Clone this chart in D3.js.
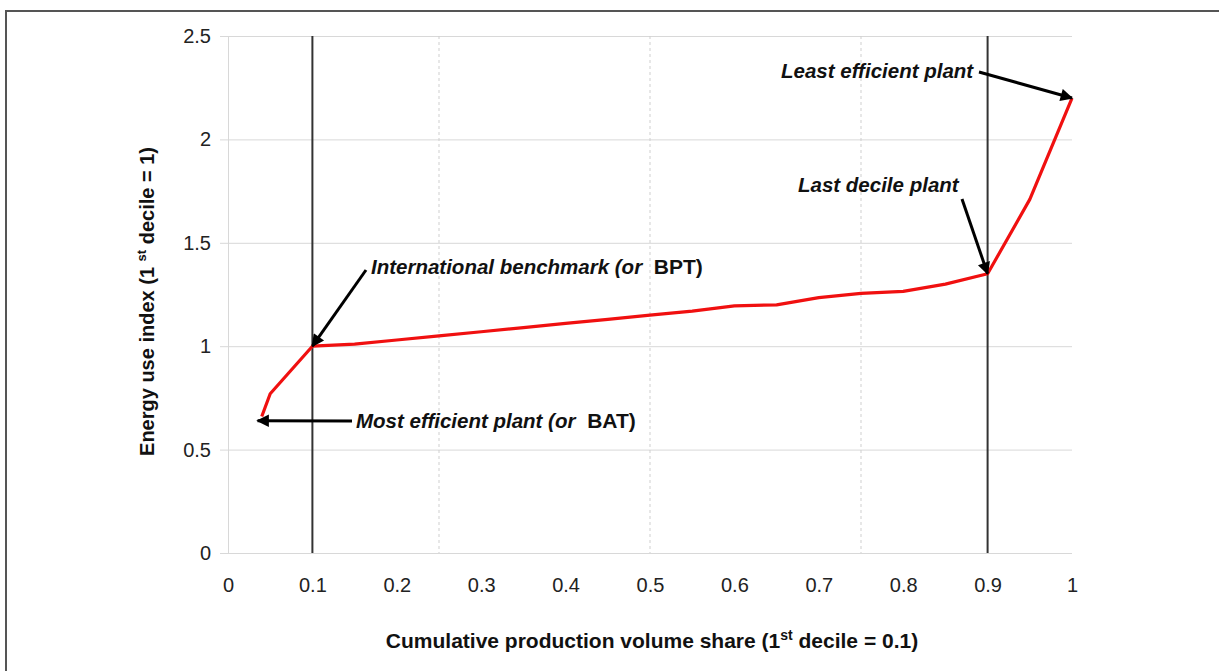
<!DOCTYPE html>
<html>
<head>
<meta charset="utf-8">
<script src="https://cdn.jsdelivr.net/npm/d3@7"></script>
<style>
  body { margin: 0; background: #fff; }
  text { font-family: "Liberation Sans", Arial, sans-serif; }
  .tick text { font-size: 20px; fill: #222; }
  .axisTitle { font-weight: bold; fill: #111; }
  .note { font-size: 20.5px; font-weight: bold; font-style: italic; fill: #111; }
</style>
</head>
<body>
<svg id="chart"></svg>
<script>
// cumulative production volume share vs energy use index
const shareValues = [0.04, 0.05, 0.1, 0.15, 0.2, 0.25, 0.3, 0.35, 0.4, 0.45, 0.5, 0.55, 0.6, 0.65, 0.7, 0.75, 0.8, 0.85, 0.9, 0.95, 1.0];
const indexValues = [0.66, 0.77, 1.0, 1.01, 1.03, 1.05, 1.07, 1.09, 1.11, 1.13, 1.15, 1.17, 1.195, 1.2, 1.235, 1.255, 1.265, 1.3, 1.35, 1.71, 2.2];
const xTicks = [0, 0.1, 0.2, 0.3, 0.4, 0.5, 0.6, 0.7, 0.8, 0.9, 1];
const yTicks = [0, 0.5, 1, 1.5, 2, 2.5];
const xGrid = [0.25, 0.5, 0.75];
const decileLines = [0.1, 0.9];

const width = 1219;
const height = 671;
const margin = { top: 36, right: 147, bottom: 118, left: 228 };

const svg = d3.select('#chart')
  .attr('width', width)
  .attr('height', height);

// outer frame (runs off the right and bottom edge)
svg.append('rect')
  .attr('x', 6).attr('y', 11)
  .attr('width', width + 20).attr('height', height + 20)
  .attr('fill', 'none')
  .attr('stroke', '#555')
  .attr('stroke-width', 2);

const x = d3.scaleLinear().domain([0, 1]).range([margin.left, width - margin.right]);
const y = d3.scaleLinear().domain([0, 2.5]).range([height - margin.bottom, margin.top]);

const defs = svg.append('defs');
defs.append('marker')
  .attr('id', 'head')
  .attr('viewBox', '0 0 10 10')
  .attr('refX', 9).attr('refY', 5)
  .attr('markerWidth', 5.5).attr('markerHeight', 4.2)
  .attr('markerUnits', 'strokeWidth')
  .attr('orient', 'auto')
  .append('path')
  .attr('d', 'M0,0 L10,5 L0,10 Z')
  .attr('fill', '#000');

// horizontal grid + y ticks
svg.append('g')
  .attr('transform', `translate(${margin.left},0)`)
  .call(d3.axisLeft(y).tickValues(yTicks).tickSize(8).tickPadding(9)
    .tickFormat(d => d))
  .call(g => g.select('.domain').attr('stroke', '#d8d8d8'))
  .call(g => g.selectAll('.tick line').clone()
    .attr('x2', x(1) - margin.left))
  .call(g => g.selectAll('.tick line').attr('stroke', '#d8d8d8'));

// dashed vertical grid
svg.append('g')
  .selectAll('line')
  .data(xGrid)
  .join('line')
  .attr('x1', d => x(d)).attr('x2', d => x(d))
  .attr('y1', y(2.5)).attr('y2', y(0))
  .attr('stroke', '#cfcfcf')
  .attr('stroke-dasharray', '3,3');

// x tick labels only
svg.append('g')
  .attr('transform', `translate(0,${y(0)})`)
  .call(d3.axisBottom(x).tickValues(xTicks).tickSize(0).tickPadding(25)
    .tickFormat(d => d))
  .call(g => g.select('.domain').remove());

// decile lines
svg.append('g')
  .selectAll('line')
  .data(decileLines)
  .join('line')
  .attr('x1', d => x(d)).attr('x2', d => x(d))
  .attr('y1', y(2.5)).attr('y2', y(0))
  .attr('stroke', '#333')
  .attr('stroke-width', 2);

// curve
const points = shareValues.map((s, i) => [s, indexValues[i]]);
svg.append('path')
  .datum(points)
  .attr('fill', 'none')
  .attr('stroke', '#f01010')
  .attr('stroke-width', 3.2)
  .attr('stroke-linejoin', 'round')
  .attr('d', d3.line().x(d => x(d[0])).y(d => y(d[1])));

// axis titles
const yTitle = svg.append('text')
  .attr('class', 'axisTitle')
  .style('font-size', '20px')
  .attr('text-anchor', 'middle')
  .attr('transform', `translate(154,${(y(0) + y(2.5)) / 2 + 7}) rotate(-90)`);
yTitle.append('tspan').text('Energy use index (1 ');
yTitle.append('tspan').attr('dy', -8).style('font-size', '13px').text('st');
yTitle.append('tspan').attr('dy', 8).text(' decile = 1)');

const xTitle = svg.append('text')
  .attr('class', 'axisTitle')
  .style('font-size', '21px')
  .attr('text-anchor', 'middle')
  .attr('x', 652).attr('y', 648);
xTitle.append('tspan').text('Cumulative production volume share (1');
xTitle.append('tspan').attr('dy', -8).style('font-size', '14px').text('st');
xTitle.append('tspan').attr('dy', 8).text(' decile = 0.1)');

// annotations: arrow targets are points on the curve
const byShare = s => points.find(p => p[0] === s);
const notes = [
  { text: 'Least efficient plant', extra: '', tx: 781, ty: 78, from: [979, 72], at: byShare(1.0) },
  { text: 'Last decile plant', extra: '', tx: 798, ty: 192, from: [962, 199], at: byShare(0.9) },
  { text: 'International benchmark (or ', extra: 'BPT)', tx: 371, ty: 274, from: [366, 270], at: byShare(0.1) },
  { text: 'Most efficient plant (or ', extra: 'BAT)', tx: 356, ty: 428, from: [352, 421], at: [0.035, 0.64] }
];

const ng = svg.append('g');
notes.forEach(n => {
  const t = ng.append('text').attr('class', 'note').attr('x', n.tx).attr('y', n.ty);
  t.append('tspan').text(n.text);
  if (n.extra) t.append('tspan').attr('dx', 6).style('font-style', 'normal').style('font-size', '21px').text(n.extra);
  ng.append('line')
    .attr('x1', n.from[0]).attr('y1', n.from[1])
    .attr('x2', x(n.at[0])).attr('y2', y(n.at[1]))
    .attr('stroke', '#000')
    .attr('stroke-width', 3)
    .attr('marker-end', 'url(#head)');
});
</script>
</body>
</html>
